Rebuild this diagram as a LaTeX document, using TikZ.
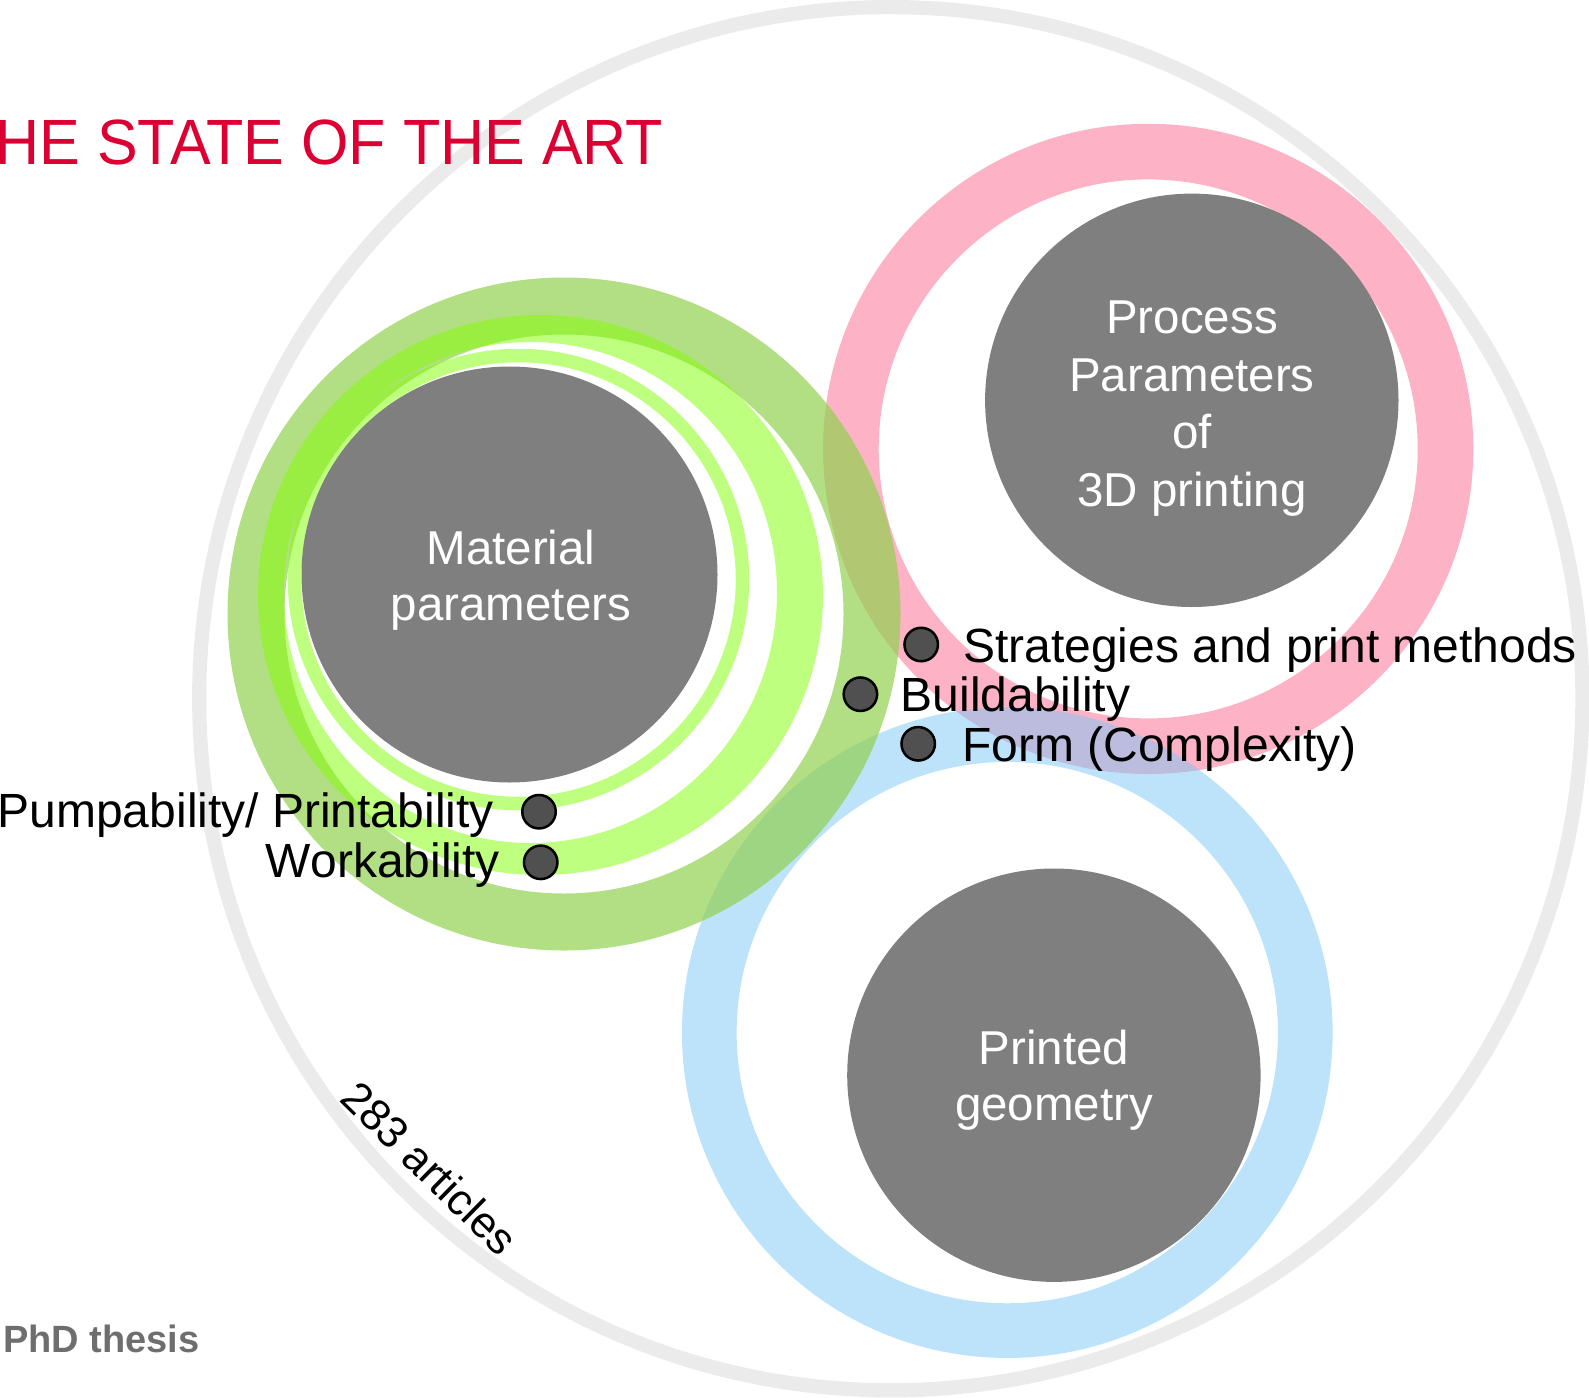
\documentclass[tikz,border=0pt]{standalone}
\usepackage{graphicx}
\usepackage{fontspec}
\setmainfont{Liberation Sans}

\definecolor{ringgray}{RGB}{235,235,235}
\definecolor{ringpink}{RGB}{253,178,197}
\definecolor{ringblue}{RGB}{123,199,247}
\definecolor{ringolive}{RGB}{146,208,80}
\definecolor{ringlime}{RGB}{128,255,0}
\definecolor{discgray}{RGB}{127,127,127}
\definecolor{dotgray}{RGB}{80,80,80}
\definecolor{titlered}{RGB}{220,0,50}
\definecolor{notegray}{RGB}{110,110,110}

\begin{document}
\begin{tikzpicture}[x=1pt,y=-1pt,
  disc/.style={circle, fill=discgray, draw=none, inner sep=0pt, minimum size=#1},
  disctext/.style={text=white, align=center, inner sep=0pt,
    font=\fontsize{47.5pt}{#1}\selectfont},
  bullet/.style={circle, fill=dotgray, draw=black, line width=2.5pt,
    minimum size=33.5pt, inner sep=0pt},
  itemtext/.style={text=black, inner sep=0pt, font=\fontsize{48pt}{57pt}\selectfont},
]
\useasboundingbox (0,0) rectangle (1589,1397);
\clip (0,0) rectangle (1589,1397);

% outer boundary of the literature set
\draw[ringgray, line width=14.2pt] (890.8,698.7) circle[radius=691.6];

% process ring (pink) and geometry ring (blue)
\draw[ringpink, line width=55.6pt] (1148.2,448.9) circle[radius=297.3];
\draw[ringblue, draw opacity=0.5, line width=54.7pt] (1007.3,1032.6) circle[radius=298];

% material rings
\draw[ringolive, draw opacity=0.7, line width=57pt] (564,614) circle[radius=308];
\fill[ringlime, fill opacity=0.5, even odd rule]
  (540.5,595) ellipse[x radius=282.5, y radius=280]
  (530.5,592.5) ellipse[x radius=246.5, y radius=250.5];
\draw[ringlime, draw opacity=0.5, line width=13.5pt] (518.5,579.5) circle[radius=224];

% parameter discs
\node[disc=416pt, minimum height=416pt] (material) at (509.5,574.5) {};
\node[disc=413.4pt] (process) at (1191.8,400.3) {};
\node[disc=413.4pt] (geometry) at (1053.9,1075.2) {};

\node[disctext=56pt] (materialtext) at (511,580) {Material\\parameters};
\node[disctext=57.8pt] (processtext) at (1192,408.5) {Process\\Parameters\\of\\3D printing};
\node[disctext=56pt] (geometrytext) at (1054,1080) {Printed\\geometry};

% bullet items
\node[bullet] (dstrat) at (921.2,644.5) {};
\node[bullet] (dbuild) at (860.4,694.2) {};
\node[bullet] (dform) at (918.2,743.8) {};
\node[bullet] (dpump) at (539,811.7) {};
\node[bullet] (dwork) at (540.7,862.3) {};

\node[itemtext, anchor=base west] (tstrat) at (963,662) {Strategies and print methods};
\node[itemtext, anchor=base west] (tbuild) at (900.5,711) {Buildability};
\node[itemtext, anchor=base west] (tform) at (962,761) {Form (Complexity)};
\node[itemtext, anchor=base east] (tpump) at (494,827) {Pumpability/ Printability};
\node[itemtext, anchor=base east] (twork) at (500,877) {Workability};

% headline and notes
\node[anchor=base west, inner sep=0pt, text=titlered,
  font=\fontsize{64pt}{70pt}\selectfont] (title) at (-4.8,164)
  {\scalebox{0.953}[1]{HE STATE OF THE ART}};
\node[rotate=-44.5, inner sep=0pt, font=\fontsize{44pt}{50pt}\selectfont] (count)
  at (430,1168) {283 articles};
\node[anchor=base west, inner sep=0pt, text=notegray,
  font=\bfseries\fontsize{38pt}{42pt}\selectfont] (thesis) at (3,1352) {PhD thesis};
\end{tikzpicture}
\end{document}
